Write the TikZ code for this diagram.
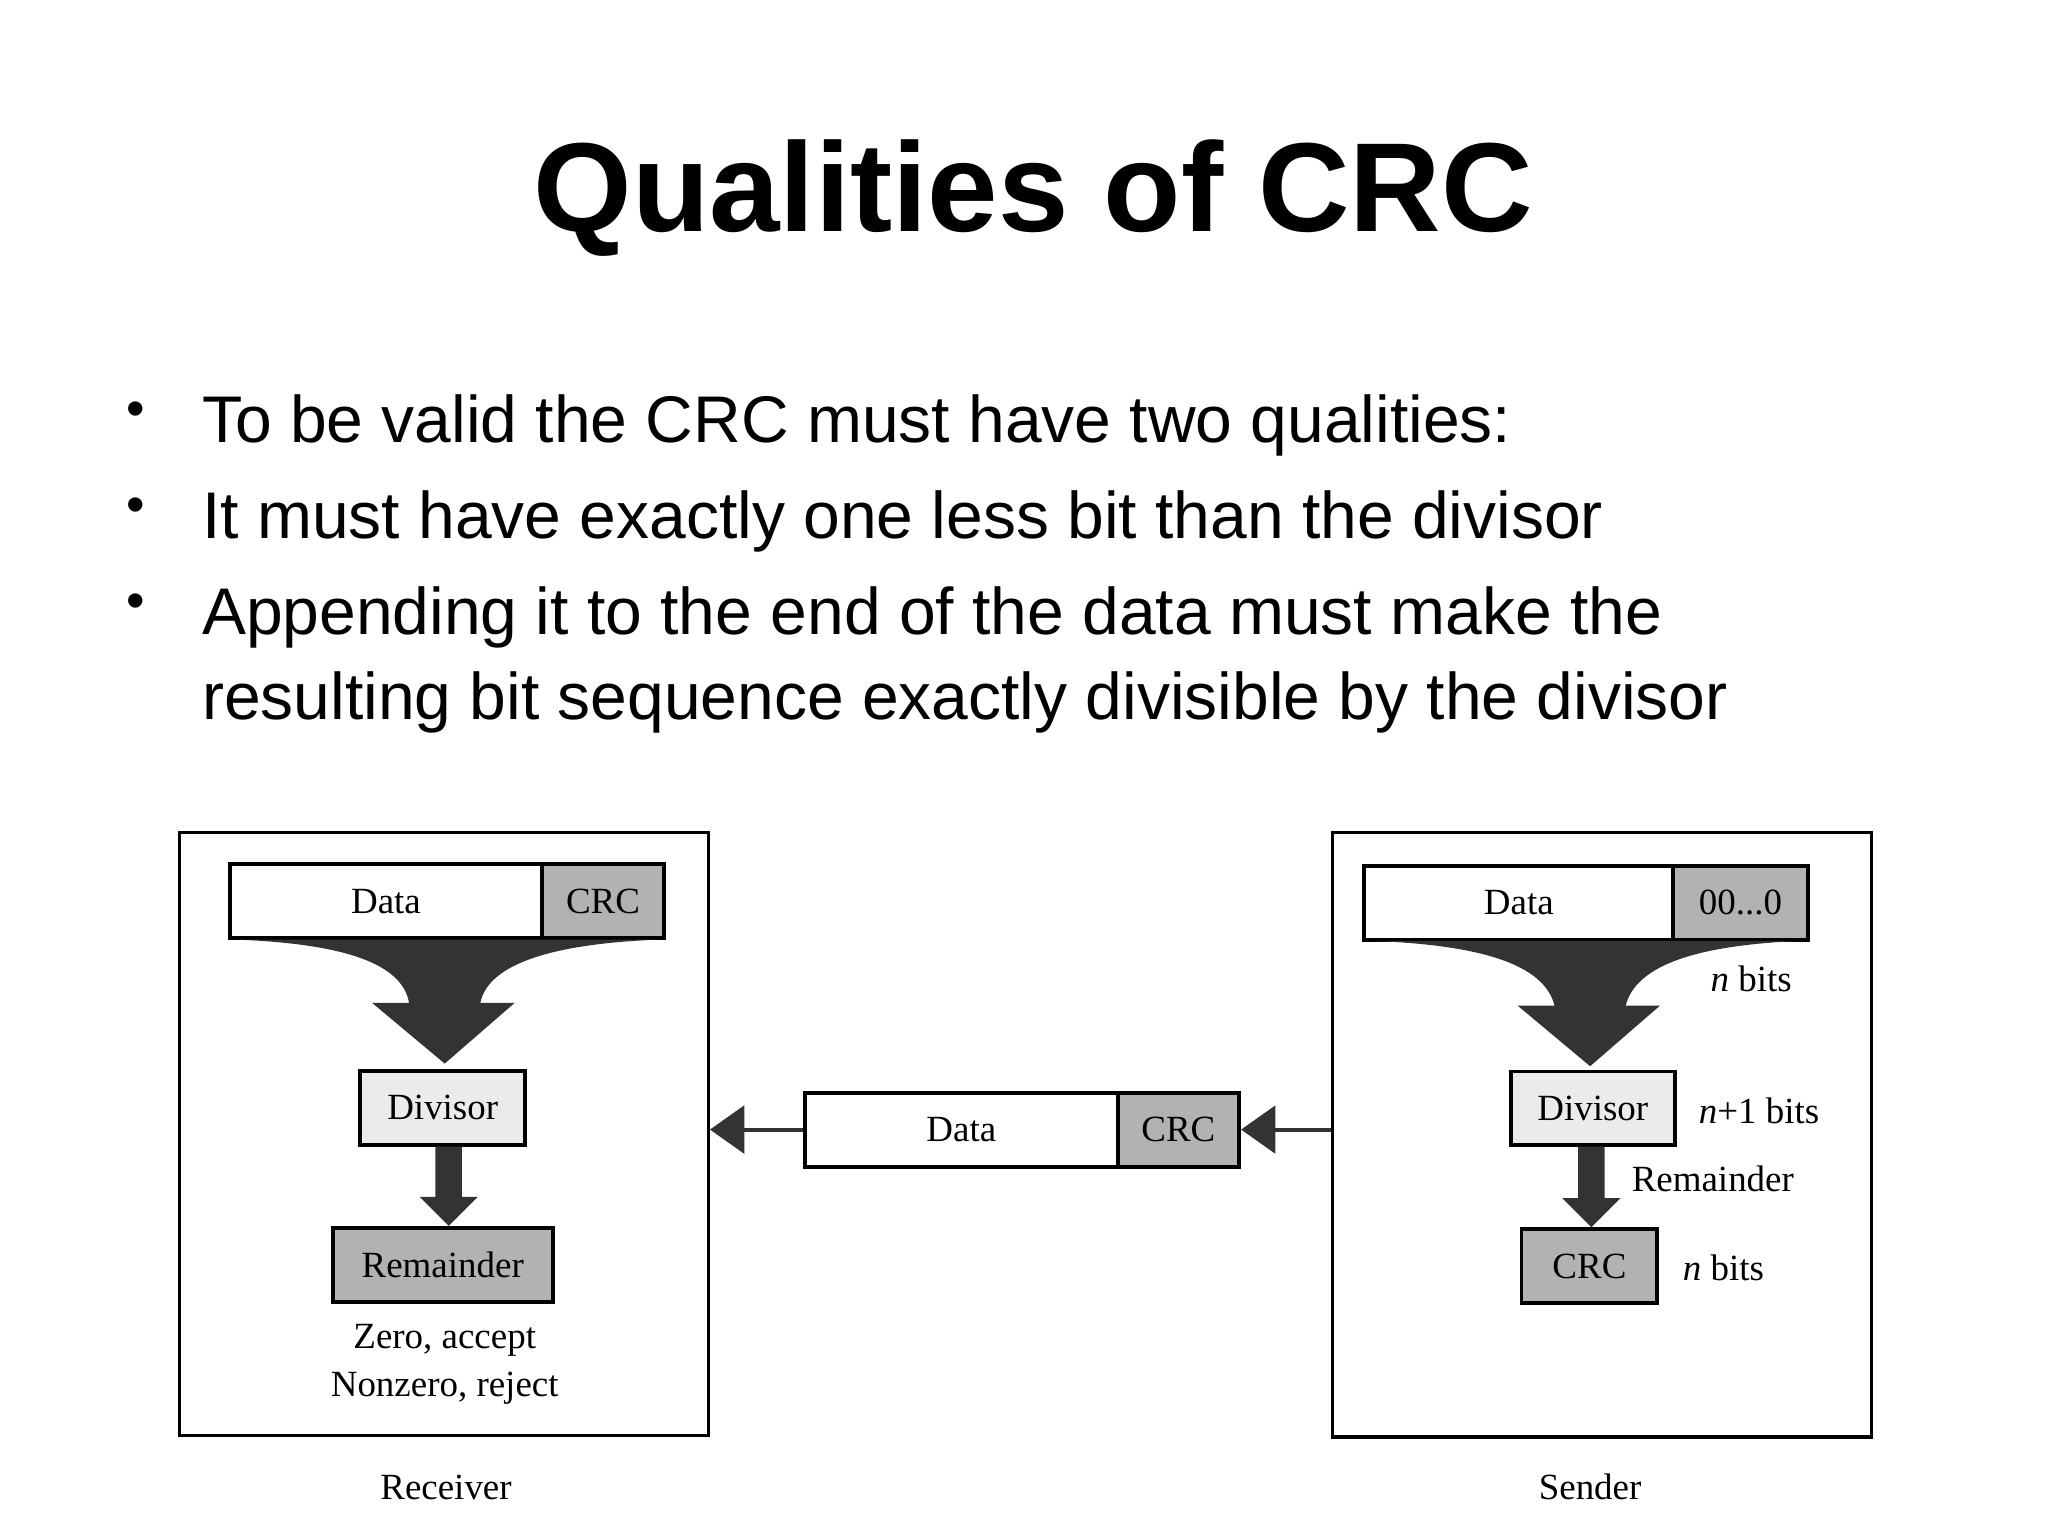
\documentclass[tikz,border=0pt]{standalone}
\usetikzlibrary{arrows.meta}
\usepackage{fontspec}
\setmainfont{Liberation Serif}
\newfontfamily\arial{Liberation Sans}
\begin{document}
\begin{tikzpicture}[x=1pt,y=-1pt,
  box/.style={draw=black,line width=2.5pt},
  cell/.style={draw=black,line width=3pt,minimum height=56pt,inner sep=0pt,font=\fontsize{28}{30}\selectfont},
  lbl/.style={font=\fontsize{28}{32}\selectfont,inner sep=0pt},
  bul/.style={font=\arial\fontsize{50}{60}\selectfont,anchor=base west,inner sep=0pt},
  fat/.style={fill=black!80},
  thin/.style={draw=black!80,line width=3pt,-{Triangle[length=26pt,width=36pt]}}]
\useasboundingbox (0,0) rectangle (1552,1164);
\fill[white] (0,0) rectangle (1552,1164);
\node[font=\arial\bfseries\fontsize{96}{110}\selectfont] (title) at (783,150) {Qualities of CRC};
\foreach \y/\t [count=\i] in {335/To be valid the CRC must have two qualities:,408/It must have exactly one less bit than the divisor,481/Appending it to the end of the data must make the}{
  \node[bul] (b\i) at (153,\y) {\t};
  \node[font=\arial\fontsize{40}{40}\selectfont,anchor=base] (d\i) at (103,\y-12) {•};}
\node[bul] (b4) at (153,545) {resulting bit sequence exactly divisible by the divisor};
% receiver
\draw[box] (136,631) rectangle (537,1088);
\node[cell,minimum width=237pt,fill=white] (rd) at (292.5,683) {Data};
\node[cell,minimum width=92pt,fill=black!30] (rc) at (457,683) {CRC};
\fill[fat] (178,712) .. controls (260,715) and (305,730) .. (310,760) -- (282,760) -- (337,806) -- (390,760) -- (364,760) .. controls (370,730) and (420,715) .. (500,712) -- cycle;
\node[cell,minimum width=125pt,fill=black!8] (rdiv) at (335.5,839.5) {Divisor};
\node[cell,minimum width=167pt,fill=black!30] (rrem) at (335.5,958.5) {Remainder};
\fill[fat] (330,869) -- (350,869) -- (350,907) -- (362,907) -- (340,929) -- (318,907) -- (330,907) -- cycle;
\node[lbl] (z) at (337,1016) {Zero, accept};
\node[lbl] (nz) at (337,1052) {Nonzero, reject};
\node[lbl] (rcv) at (338,1127) {Receiver};
% middle
\node[cell,minimum width=237pt,fill=white] (md) at (728.5,856) {Data};
\node[cell,minimum width=92pt,fill=black!30] (mc) at (893,856) {CRC};
% sender
\draw[box] (1010,631) rectangle (1418,1089);
\node[cell,minimum width=234pt,fill=white] (sd) at (1151,684) {Data};
\node[cell,minimum width=102pt,fill=black!30] (sz) at (1319,684) {00...0};
\fill[fat] (1040,713) .. controls (1120,716) and (1170,730) .. (1178,762) -- (1150,762) -- (1205,808) -- (1258,762) -- (1232,762) .. controls (1240,730) and (1290,716) .. (1365,713) -- cycle;
\node[lbl] (nb1) at (1327,742) {\textit{n} bits};
\node[cell,minimum width=124pt,fill=black!8] (sdiv) at (1207,840) {Divisor};
\node[lbl] (nb2) at (1333,842) {\textit{n}+1 bits};
\fill[fat] (1196,869) -- (1216,869) -- (1216,908) -- (1228,908) -- (1206,930) -- (1184,908) -- (1196,908) -- cycle;
\node[lbl] (srem) at (1298,893) {Remainder};
\node[cell,minimum width=103pt,fill=black!30] (scrc) at (1204.5,959.5) {CRC};
\node[lbl] (nb3) at (1306,961) {\textit{n} bits};
\node[lbl] (snd) at (1205,1127) {Sender};
% arrows
\coordinate (sl) at (1009,856);
\coordinate (rr) at (538,856);
\draw[thin] (sl) -- (mc.east);
\draw[thin] (md.west) -- (rr);
\end{tikzpicture}
\end{document}
